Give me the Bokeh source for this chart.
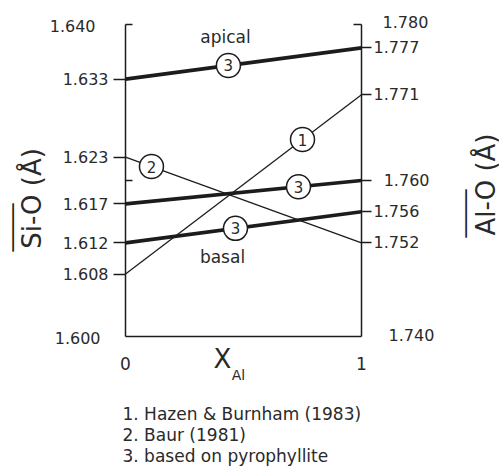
import math
from bokeh.plotting import figure
from bokeh.models import Range1d, LinearAxis, FixedTicker, PrintfTickFormatter, ColumnDataSource
from bokeh.core.properties import value
from bokeh.embed import file_html
from bokeh.resources import INLINE

# ---- data ----
series = ["apical", "hazen", "baur", "middle", "basal"]
si_values = [1.633, 1.608, 1.623, 1.617, 1.612]      # Si-O at X_Al = 0 (left axis)
al_values = [1.777, 1.771, 1.752, 1.760, 1.756]      # Al-O at X_Al = 1 (right axis)
marker_labels = ["3", "1", "2", "3", "3"]
marker_x = [0.436, 0.75, 0.11, 0.733, 0.466]
thick = [True, False, False, True, True]

si_ticks = [1.608, 1.612, 1.617, 1.623, 1.633]
al_ticks = [1.752, 1.756, 1.760, 1.771, 1.777]
x_ticks = [0, 1]
legend_lines = ["1. Hazen & Burnham (1983)", "2. Baur (1981)", "3. based on pyrophyllite"]

SI_MIN, SI_MAX = 1.600, 1.640
AL_MIN, AL_MAX = 1.740, 1.780

FONT = "DejaVu Sans"
INK = "#1c1c1c"
TXT = "#2a2a2a"

W, H = 499, 466
# plot box in canvas pixels
BX0, BX1, BY0, BY1 = 125, 361, 24, 336


def X(px):
    return (px - BX0) / (BX1 - BX0)


def Y(py):
    return SI_MIN + (BY1 - py) * (SI_MAX - SI_MIN) / (BY1 - BY0)


p = figure(frame_width=W, frame_height=H,
           min_border_left=0, min_border_right=0, min_border_top=0, min_border_bottom=0,
           x_range=Range1d(X(0), X(W)), y_range=Range1d(Y(H), Y(0)),
           x_axis_type=None, y_axis_type=None,
           output_backend="svg", toolbar_location=None)
p.outline_line_color = None
p.background_fill_color = "white"
p.border_fill_color = "white"
OFF = AL_MIN - SI_MIN
p.extra_y_ranges = {"al": Range1d(Y(H) + OFF, Y(0) + OFF)}


def al_to_si(v):
    return SI_MIN + (v - AL_MIN) * (SI_MAX - SI_MIN) / (AL_MAX - AL_MIN)


def style_axis(ax):
    ax.axis_line_color = INK
    ax.axis_line_width = 1.5
    ax.major_tick_line_color = INK
    ax.major_tick_line_width = 1.3
    ax.minor_tick_line_color = INK
    ax.minor_tick_line_width = 1.5
    ax.major_label_text_font = FONT
    ax.major_label_text_font_size = "16px"
    ax.major_label_text_color = TXT


left = LinearAxis(ticker=FixedTicker(ticks=si_ticks, minor_ticks=[1.620, 1.640]),
                  formatter=PrintfTickFormatter(format="%.3f"),
                  fixed_location=0, bounds=(SI_MIN, SI_MAX))
style_axis(left)
left.major_tick_out = 12
left.major_tick_in = 0
left.minor_tick_in = 7
left.minor_tick_out = 0
left.major_label_standoff = 5
p.add_layout(left, "left")

right = LinearAxis(y_range_name="al", ticker=FixedTicker(ticks=al_ticks, minor_ticks=[1.780]),
                   formatter=PrintfTickFormatter(format="%.3f"),
                   fixed_location=1, bounds=(AL_MIN, AL_MAX))
style_axis(right)
right.major_tick_out = 10
right.major_tick_in = 0
right.minor_tick_in = 8
right.minor_tick_out = 0
right.major_label_standoff = 2
right.major_label_overrides = {1.760: "\u20071.760"}
p.add_layout(right, "right")

bottom = LinearAxis(ticker=FixedTicker(ticks=x_ticks), fixed_location=SI_MIN, bounds=(0, 1))
style_axis(bottom)
bottom.major_tick_out = 0
bottom.major_tick_in = 0
bottom.minor_tick_out = 0
bottom.minor_tick_in = 0
bottom.major_label_standoff = 20
bottom.major_label_text_font_size = "17px"
p.add_layout(bottom, "below")

# lines
for s, a, t in zip(si_values, al_values, thick):
    p.line([0, 1], [s, al_to_si(a)], line_color=INK, line_width=3.6 if t else 1.3)

# circled numbers on the lines
my = [s + (al_to_si(a) - s) * mx for s, a, mx in zip(si_values, al_values, marker_x)]
src = ColumnDataSource(dict(x=marker_x, y=my, t=marker_labels))
p.scatter("x", "y", source=src, marker="circle", size=24, fill_color="white",
          line_color=INK, line_width=1.5)
p.text("x", "y", text="t", source=src, text_align="center", text_baseline="middle",
       text_font=value(FONT), text_font_size="15px", text_color=TXT)


def lab(text, px, py, size="16px", align="left", angle=0.0, color=TXT):
    p.text([X(px)], [Y(py)], text=[text], text_font=value(FONT), text_font_size=size,
           text_align=align, text_baseline="middle", angle=angle, text_color=color)


lab("1.640", 95, 25, align="right")
lab("1.600", 100, 337, align="right")
lab("1.780", 382, 21)
lab("1.740", 388, 334)
lab("apical", 225, 36, size="17px", align="center")
lab("basal", 222, 256, size="17px", align="center")
lab("X", 222, 358, size="26px", align="center")
lab("Al", 238, 374, size="14px", align="center")

for i, t in enumerate(legend_lines):
    lab(t, 122, 413 + 21 * i, size="17px")

# axis titles (rotated) with overlines
lab("Si-O (Å)", 31, 198, size="26px", align="center", angle=math.pi / 2)
lab("────", 12, 227, size="20px", align="center", angle=math.pi / 2, color=INK)
lab("Al-O (Å)", 485, 184, size="26px", align="center", angle=math.pi / 2)
lab("────", 465, 213, size="20px", align="center", angle=math.pi / 2, color=INK)

open("out.html", "w").write(file_html(p, INLINE))
